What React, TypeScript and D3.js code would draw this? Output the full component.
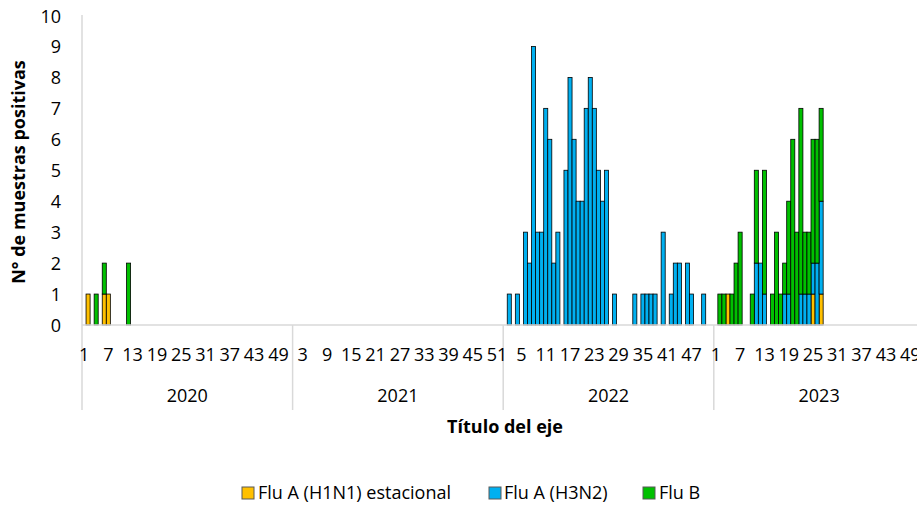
import * as d3 from 'd3';

// años y semanas epidemiológicas
const years = ['2020', '2021', '2022', '2023'];
const weeksPerYear = 52;
const weekTickLabels = [
  [1, 7, 13, 19, 25, 31, 37, 43, 49],
  [3, 9, 15, 21, 27, 33, 39, 45, 51],
  [5, 11, 17, 23, 29, 35, 41, 47],
  [1, 7, 13, 19, 25, 31, 37, 43, 49],
];
const yTicks = [0, 1, 2, 3, 4, 5, 6, 7, 8, 9, 10];

// [año, semana, muestras positivas]
const h1n1: [string, number, number][] = [
  ['2020', 2, 1], ['2020', 6, 1], ['2020', 7, 1],
  ['2023', 4, 1], ['2023', 25, 1], ['2023', 27, 1],
];
const h3n2: [string, number, number][] = [
  ['2022', 2, 1], ['2022', 4, 1], ['2022', 6, 3], ['2022', 7, 2], ['2022', 8, 9],
  ['2022', 9, 3], ['2022', 10, 3], ['2022', 11, 7], ['2022', 12, 6], ['2022', 13, 2],
  ['2022', 14, 3], ['2022', 16, 5], ['2022', 17, 8], ['2022', 18, 6], ['2022', 19, 4],
  ['2022', 20, 4], ['2022', 21, 7], ['2022', 22, 8], ['2022', 23, 7], ['2022', 24, 5],
  ['2022', 25, 4], ['2022', 26, 5], ['2022', 28, 1], ['2022', 33, 1], ['2022', 35, 1],
  ['2022', 36, 1], ['2022', 37, 1], ['2022', 38, 1], ['2022', 40, 3], ['2022', 42, 1],
  ['2022', 43, 2], ['2022', 44, 2], ['2022', 46, 2], ['2022', 47, 1], ['2022', 50, 1],
  ['2023', 11, 2], ['2023', 12, 2], ['2023', 13, 1], ['2023', 18, 1], ['2023', 19, 1],
  ['2023', 22, 1], ['2023', 23, 1], ['2023', 24, 1], ['2023', 25, 1], ['2023', 26, 2],
  ['2023', 27, 3],
];
const fluB: [string, number, number][] = [
  ['2020', 4, 1], ['2020', 6, 1], ['2020', 12, 2],
  ['2023', 2, 1], ['2023', 3, 1], ['2023', 5, 1], ['2023', 6, 2], ['2023', 7, 3],
  ['2023', 10, 1], ['2023', 11, 3], ['2023', 13, 4], ['2023', 15, 1], ['2023', 16, 3],
  ['2023', 17, 1], ['2023', 18, 1], ['2023', 19, 3], ['2023', 20, 6], ['2023', 21, 3],
  ['2023', 22, 6], ['2023', 23, 2], ['2023', 24, 2], ['2023', 25, 4], ['2023', 26, 4],
  ['2023', 27, 3],
];

const seriesNames = ['Flu A (H1N1) estacional', 'Flu A (H3N2)', 'Flu B'];
const seriesColors = ['#FFC000', '#00B0F0', '#00C000'];

const W = 917;
const H = 508;
const FONT = '"Open Sans", Calibri, sans-serif';

export default function App() {
  // tabla semana por semana
  const keys = ['h1n1', 'h3n2', 'fluB'];
  const rows: any[] = [];
  years.forEach(yr => {
    for (let w = 1; w <= weeksPerYear; w++) {
      rows.push({ id: `${yr}-${w}`, year: yr, week: w, h1n1: 0, h3n2: 0, fluB: 0 });
    }
  });
  const byId = new Map(rows.map(r => [r.id, r]));
  [h1n1, h3n2, fluB].forEach((list, i) => {
    list.forEach(([yr, w, v]) => { byId.get(`${yr}-${w}`)[keys[i]] = v; });
  });

  const stacked = d3.stack().keys(keys)(rows);

  const left = 82;
  const bandW = 4.05;
  const x = d3.scaleBand()
    .domain(rows.map(r => r.id))
    .range([left, left + rows.length * bandW])
    .padding(0);
  const y = d3.scaleLinear().domain([0, 10]).range([325, 15.5]);

  const axisGray = '#d9d9d9';
  const bottom = y(0);

  const yearStart = (yr: string) => x(`${yr}-1`)!;
  const yearEnd = (yr: string) => x(`${yr}-${weeksPerYear}`)! + x.bandwidth();

  const legendItems = [
    { x: 242, tx: 258 },
    { x: 489, tx: 504 },
    { x: 643, tx: 659 },
  ];

  return (
    <svg width={W} height={H} style={{ position: 'absolute', left: 0, top: 0, background: '#fff' }}
      fontFamily={FONT}>
      {/* barras apiladas */}
      {stacked.map((layer, i) => (
        <g key={layer.key} fill={seriesColors[i]} stroke="#000" strokeWidth={0.8}>
          {layer.filter(d => d[1] - d[0] > 0).map(d => (
            <rect key={(d.data as any).id}
              x={x((d.data as any).id)}
              y={y(d[1])}
              width={x.bandwidth()}
              height={y(d[0]) - y(d[1])} />
          ))}
        </g>
      ))}

      {/* ejes */}
      <line x1={left} x2={W} y1={bottom} y2={bottom} stroke={axisGray} strokeWidth={1.5} />
      <line x1={left} x2={left} y1={15} y2={410} stroke={axisGray} strokeWidth={1.5} />
      {years.slice(1).map(yr => (
        <line key={yr} x1={yearStart(yr)} x2={yearStart(yr)} y1={bottom} y2={410}
          stroke={axisGray} strokeWidth={1.5} />
      ))}

      {yTicks.map(t => (
        <text key={t} x={61} y={y(t)} textAnchor="end" dominantBaseline="central"
          fontSize={18} fill="#000">{t}</text>
      ))}

      {years.map((yr, i) => (
        <g key={yr}>
          {weekTickLabels[i].map(w => (
            <text key={w} x={x(`${yr}-${w}`)! + x.bandwidth() / 2} y={361}
              textAnchor="middle" fontSize={18} fill="#000">{w}</text>
          ))}
          <text x={(yearStart(yr) + yearEnd(yr)) / 2} y={402} textAnchor="middle"
            fontSize={18} fill="#000">{yr}</text>
        </g>
      ))}

      {/* títulos */}
      <text transform={`translate(25,172) rotate(-90)`} textAnchor="middle"
        fontSize={18} fontWeight="bold" fill="#000">N° de muestras positivas</text>
      <text x={505} y={433} textAnchor="middle" fontSize={18} fontWeight="bold"
        fill="#000">Título del eje</text>

      {/* leyenda */}
      {seriesNames.map((name, i) => (
        <g key={name}>
          <rect x={legendItems[i].x} y={487} width={12} height={12}
            fill={seriesColors[i]} stroke="#595959" strokeWidth={1} />
          <text x={legendItems[i].tx} y={499} fontSize={18} fill="#000">{name}</text>
        </g>
      ))}
    </svg>
  );
}
